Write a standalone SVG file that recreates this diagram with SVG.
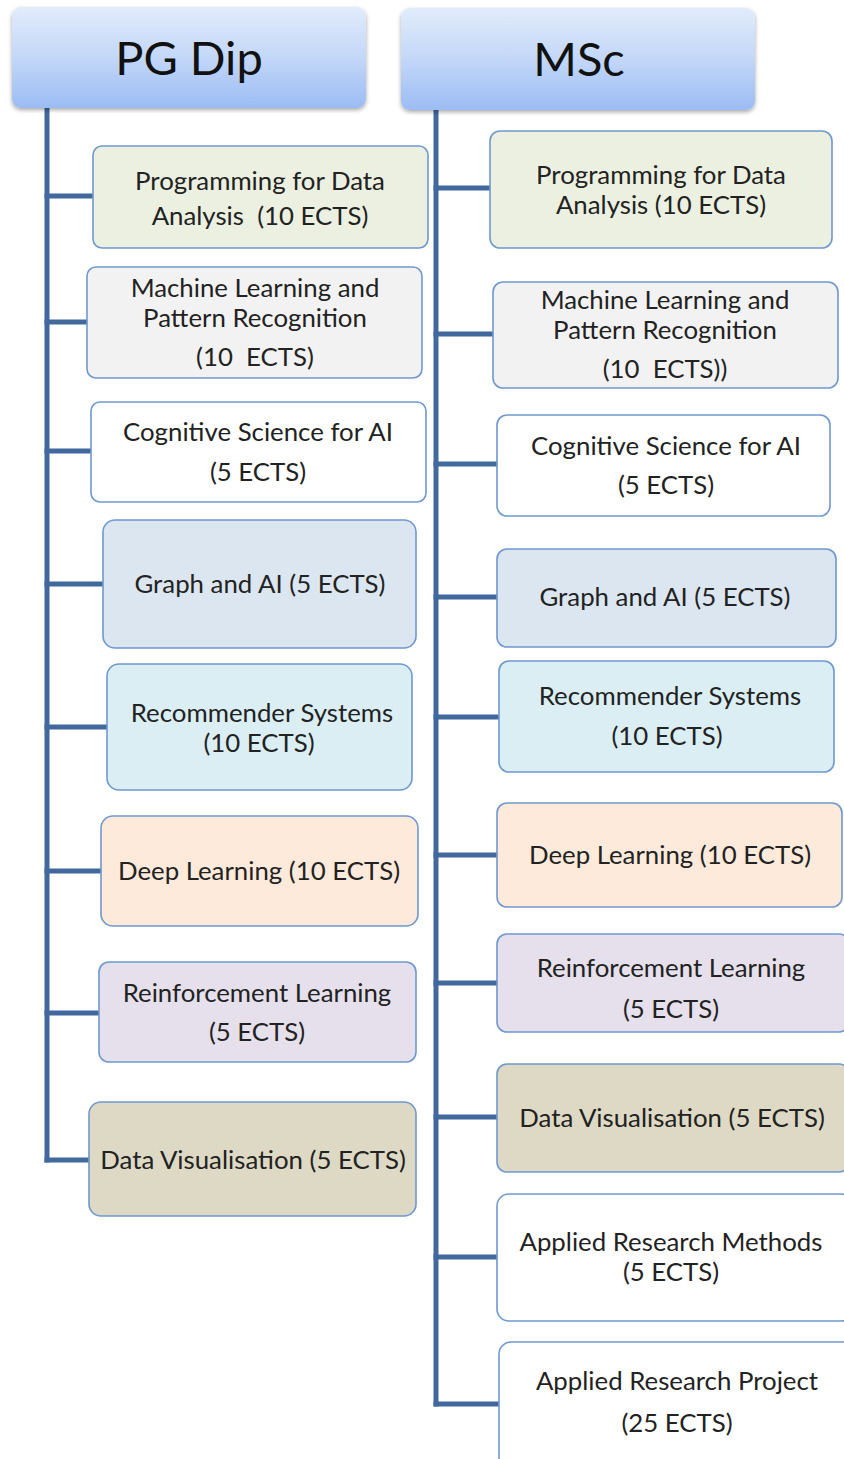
<svg xmlns="http://www.w3.org/2000/svg" width="844" height="1459" viewBox="0 0 844 1459">
<defs>
<linearGradient id="hdr" x1="0" y1="0" x2="0" y2="1">
<stop offset="0" stop-color="#e2ecfb"/>
<stop offset="0.5" stop-color="#c3d7f8"/>
<stop offset="1" stop-color="#9bbcf3"/>
</linearGradient>
<filter id="sh" x="-10%" y="-10%" width="120%" height="130%">
<feGaussianBlur in="SourceAlpha" stdDeviation="2"/>
<feOffset dx="0" dy="2" result="b"/>
<feComponentTransfer><feFuncA type="linear" slope="0.35"/></feComponentTransfer>
<feMerge><feMergeNode/><feMergeNode in="SourceGraphic"/></feMerge>
</filter>
</defs>
<style>
.hdr{fill:url(#hdr);stroke:none}
.box{stroke:#6f98cf;stroke-width:1.6}
.conn{stroke:#41699d;stroke-width:5;fill:none;stroke-linecap:square}
text{font-family:Lato,"Open Sans","Liberation Sans",sans-serif;fill:#222;text-anchor:middle}
.t{font-size:25.8px}
.h{font-size:47px;fill:#111}
.g{fill:#ebf0e0}.gr{fill:#f2f2f2}.w{fill:#ffffff}.b{fill:#dce6f1}.c{fill:#dbeef4}.o{fill:#fdeada}.p{fill:#e5e0ec}.k{fill:#ddd9c4}
</style>
<rect width="844" height="1459" fill="#ffffff"/>
<g id="connectors">
<path class="conn" d="M47 108 V1160"/>
<path class="conn" d="M47 196 H93 M47 322 H87 M47 451 H91 M47 584 H103 M47 727 H107 M47 871 H101 M47 1013 H99 M47 1160 H89"/>
<path class="conn" d="M436 110 V1404"/>
<path class="conn" d="M436 188 H490 M436 334 H493 M436 464 H497 M436 597 H497 M436 717 H499 M436 855 H497 M436 983 H497 M436 1117 H497 M436 1257 H497 M436 1404 H499"/>
</g>
<g id="pgdip">
<rect class="hdr" x="12" y="7" width="354" height="101" rx="9" filter="url(#sh)"/>
<text class="h" x="189" y="75">PG Dip</text>
</g>
<g id="msc">
<rect class="hdr" x="401" y="8" width="354" height="102" rx="9" filter="url(#sh)"/>
<text class="h" x="579" y="76">MSc</text>
</g>
<g id="l1"><rect class="box g" x="93" y="146" width="335" height="102" rx="9"/><text class="t" x="260" y="190">Programming for Data</text><text class="t" x="260" y="225" xml:space="preserve">Analysis  (10 ECTS)</text></g>
<g id="l2"><rect class="box gr" x="87" y="267" width="335" height="111" rx="9"/><text class="t" x="255" y="297">Machine Learning and</text><text class="t" x="255" y="327">Pattern Recognition</text><text class="t" x="255" y="366" xml:space="preserve">(10  ECTS)</text></g>
<g id="l3"><rect class="box w" x="91" y="402" width="335" height="100" rx="9"/><text class="t" x="258" y="441">Cognitive Science for AI</text><text class="t" x="258" y="481">(5 ECTS)</text></g>
<g id="l4"><rect class="box b" x="103" y="520" width="313" height="128" rx="12"/><text class="t" x="260" y="593">Graph and AI (5 ECTS)</text></g>
<g id="l5"><rect class="box c" x="107" y="664" width="305" height="126" rx="12"/><text class="t" x="262" y="722">Recommender Systems</text><text class="t" x="259" y="752">(10 ECTS)</text></g>
<g id="l6"><rect class="box o" x="101" y="816" width="317" height="110" rx="12"/><text class="t" x="259" y="880">Deep Learning (10 ECTS)</text></g>
<g id="l7"><rect class="box p" x="99" y="962" width="317" height="100" rx="10"/><text class="t" x="257" y="1002">Reinforcement Learning</text><text class="t" x="257" y="1041">(5 ECTS)</text></g>
<g id="l8"><rect class="box k" x="89" y="1102" width="327" height="114" rx="12"/><text class="t" x="253" y="1169">Data Visualisation (5 ECTS)</text></g>
<g id="r1"><rect class="box g" x="490" y="131" width="342" height="117" rx="10"/><text class="t" x="661" y="184">Programming for Data</text><text class="t" x="661" y="214">Analysis (10 ECTS)</text></g>
<g id="r2"><rect class="box gr" x="493" y="282" width="345" height="106" rx="10"/><text class="t" x="665" y="309">Machine Learning and</text><text class="t" x="665" y="339">Pattern Recognition</text><text class="t" x="665" y="378" xml:space="preserve">(10  ECTS))</text></g>
<g id="r3"><rect class="box w" x="497" y="415" width="333" height="101" rx="10"/><text class="t" x="666" y="455">Cognitive Science for AI</text><text class="t" x="666" y="494">(5 ECTS)</text></g>
<g id="r4"><rect class="box b" x="497" y="549" width="339" height="98" rx="10"/><text class="t" x="665" y="606">Graph and AI (5 ECTS)</text></g>
<g id="r5"><rect class="box c" x="499" y="661" width="335" height="111" rx="10"/><text class="t" x="670" y="705">Recommender Systems</text><text class="t" x="667" y="745">(10 ECTS)</text></g>
<g id="r6"><rect class="box o" x="497" y="803" width="345" height="104" rx="10"/><text class="t" x="670" y="864">Deep Learning (10 ECTS)</text></g>
<g id="r7"><rect class="box p" x="497" y="934" width="352" height="98" rx="10"/><text class="t" x="671" y="977">Reinforcement Learning</text><text class="t" x="671" y="1018">(5 ECTS)</text></g>
<g id="r8"><rect class="box k" x="497" y="1064" width="352" height="108" rx="10"/><text class="t" x="672" y="1127">Data Visualisation (5 ECTS)</text></g>
<g id="r9"><rect class="box w" x="497" y="1194" width="356" height="127" rx="12"/><text class="t" x="671" y="1251">Applied Research Methods</text><text class="t" x="671" y="1281">(5 ECTS)</text></g>
<g id="r10"><rect class="box w" x="499" y="1342" width="356" height="130" rx="12"/><text class="t" x="677" y="1390">Applied Research Project</text><text class="t" x="677" y="1432">(25 ECTS)</text></g>
</svg>
